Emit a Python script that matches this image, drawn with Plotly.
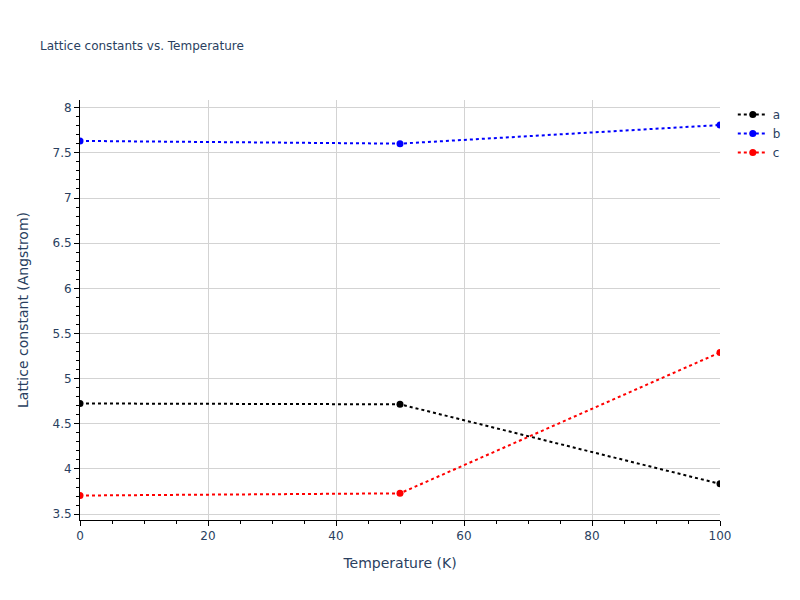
import plotly.graph_objects as go

temperature = [0, 50, 100]
lattice_a = [4.725, 4.716, 3.835]
lattice_b = [7.632, 7.602, 7.808]
lattice_c = [3.706, 3.730, 5.290]

series = [("a", lattice_a, "black"), ("b", lattice_b, "blue"), ("c", lattice_c, "red")]

fig = go.Figure()
for name, vals, color in series:
    fig.add_trace(go.Scatter(
        x=temperature,
        y=vals,
        mode="lines+markers",
        name=name,
        line=dict(color=color, width=2, dash="dot"),
        marker=dict(size=7, color=color),
    ))

axis_style = dict(
    showline=True,
    linecolor="black",
    linewidth=1,
    ticks="outside",
    tickcolor="black",
    showgrid=True,
    gridcolor="lightgray",
    zeroline=False,
    mirror=False,
)

fig.update_layout(
    title=dict(text="Lattice constants vs. Temperature", font=dict(size=12), x=0.05, y=0.93),
    template="plotly_white",
    font=dict(family="DejaVu Sans"),
    plot_bgcolor="white",
    paper_bgcolor="white",
    width=800,
    height=600,
    margin=dict(l=80, r=80, t=100, b=80),
    xaxis=dict(title="Temperature (K)", range=[0, 100], dtick=20,
               minor=dict(ticks="outside", dtick=5, tickcolor="black", showgrid=False),
               **axis_style),
    yaxis=dict(title=dict(text="Lattice constant (Angstrom)", standoff=20),
               range=[3.435, 8.085], dtick=0.5,
               minor=dict(ticks="outside", dtick=0.1, tickcolor="black", showgrid=False),
               **axis_style),
)

# page body has an 8px margin by default; drop it so the figure sits at the corner
fig.write_html("out.html", config={"displayModeBar": False},
               post_script="document.body.style.margin='0px';")
